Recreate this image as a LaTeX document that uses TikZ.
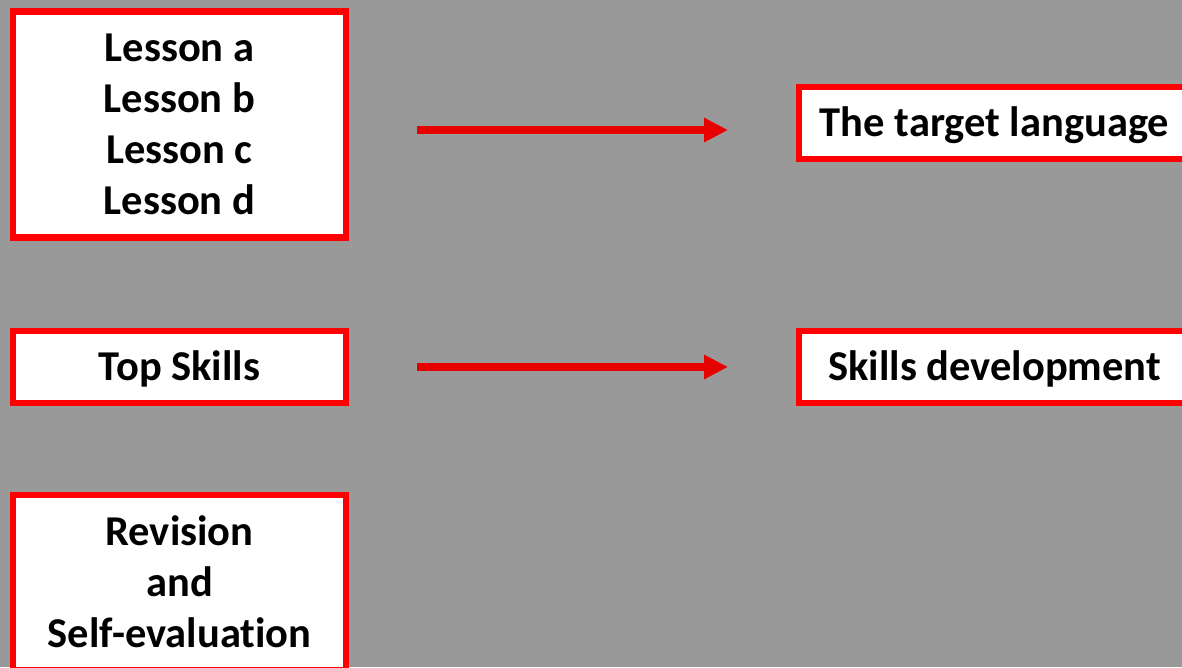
\documentclass[tikz,border=0pt]{standalone}
\usepackage{fontspec}
\setmainfont{Carlito}[Ligatures=NoCommon]
\usetikzlibrary{arrows.meta}
\definecolor{boxred}{HTML}{FF0000}
\definecolor{arrowred}{HTML}{E60000}
\definecolor{canvasgray}{HTML}{999999}
% invisible struts that centre a text block on the middle of its capitals
\newcommand\topstrut{\rule{0pt}{41pt}}
\newcommand\botstrut{\rule[-14pt]{0pt}{14pt}}
\tikzset{
  card/.style={draw=boxred, line width=6.5pt, fill=white, outer sep=0pt,
    inner sep=0pt, align=center, font=\bfseries\fontsize{42.5}{51}\selectfont},
  redarrow/.style={draw=arrowred, line width=8pt,
    -{Triangle[length=24pt,width=23pt]}}
}
\begin{document}
\begin{tikzpicture}[x=1pt,y=-1pt]
  \useasboundingbox (0,0) rectangle (1182,667);
  \clip (0,0) rectangle (1182,667);
  \fill[canvasgray] (0,0) rectangle (1182,667);

  % left column
  \node[card, minimum width=333pt, minimum height=226pt] (lessons) at (179.5,124.5)
    {\topstrut Lesson a\\Lesson b\\Lesson c\\Lesson d\botstrut};
  \node[card, minimum width=333pt, minimum height=72pt] (skills) at (179.5,367)
    {\topstrut\botstrut Top Skills};
  \node[card, minimum width=333pt, minimum height=175pt] (revision) at (179.5,582.5)
    {\topstrut Revision\\and\\Self-evaluation\botstrut};

  % right column
  \node[card, minimum width=391pt, minimum height=72pt] (target) at (994.5,123)
    {\topstrut\botstrut The target language};
  \node[card, minimum width=391pt, minimum height=72pt] (develop) at (994.5,367)
    {\topstrut\botstrut Skills development};

  % connectors
  \draw[redarrow] ([xshift=71pt,yshift=-5.5pt]lessons.east) -- ([xshift=-71pt,yshift=-7pt]target.west);
  \draw[redarrow] ([xshift=71pt]skills.east) -- ([xshift=-71pt]develop.west);
\end{tikzpicture}
\end{document}
